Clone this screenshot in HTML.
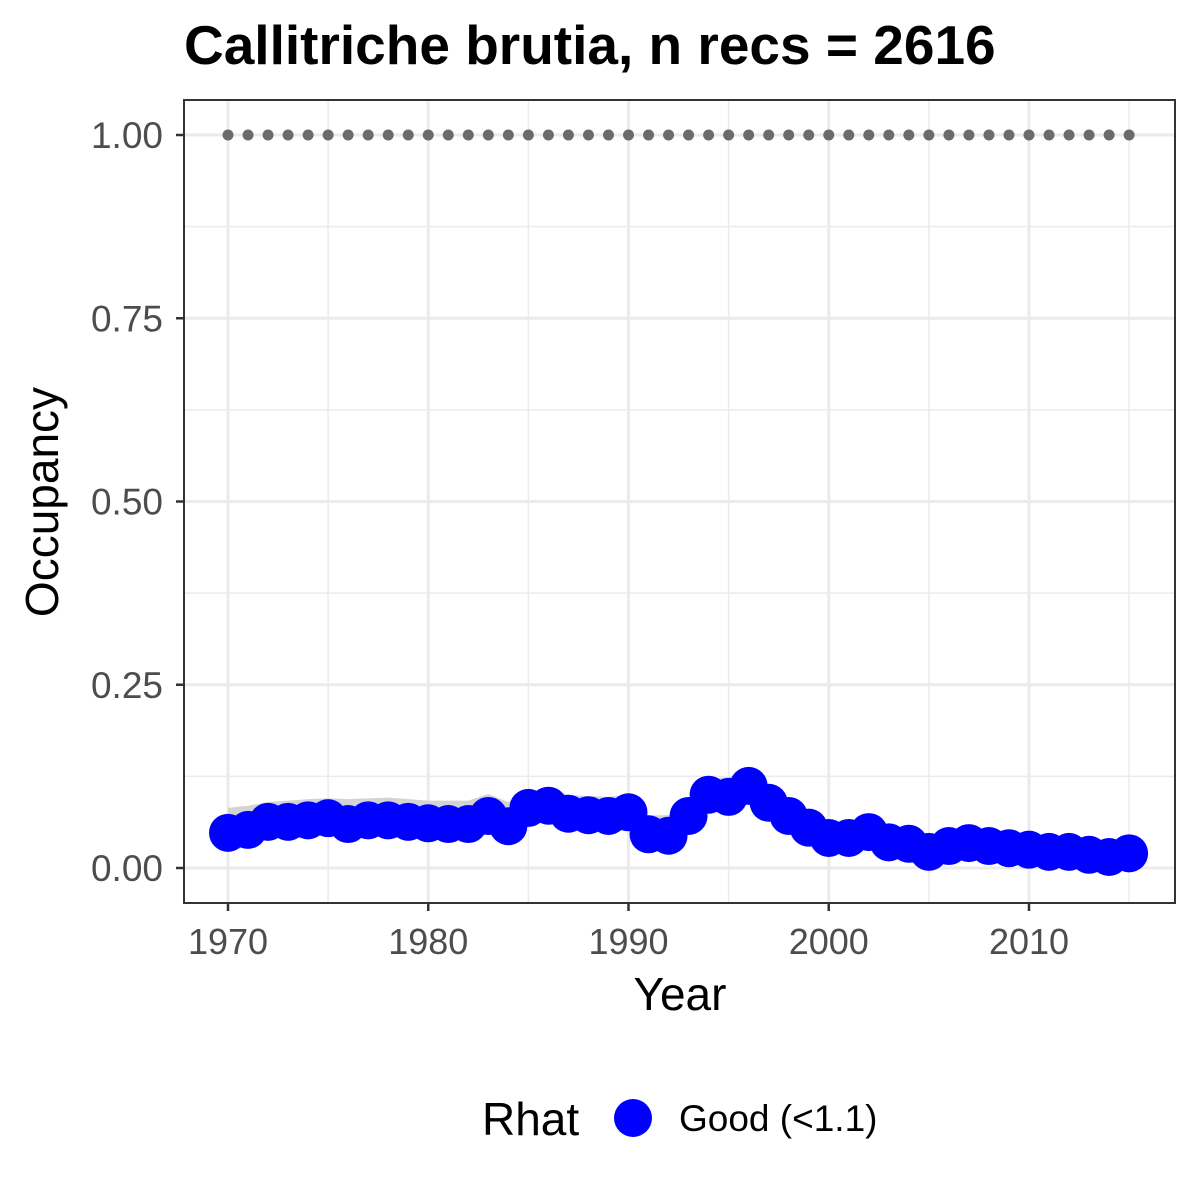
<!DOCTYPE html>
<html><head><meta charset="utf-8"><style>
body{margin:0;background:#fff;}
svg{display:block;font-family:"Liberation Sans",Arial,sans-serif;}
</style></head><body>
<svg id="chart" width="1200" height="1200" viewBox="0 0 1200 1200">
<text x="184" y="64" font-size="55" font-weight="bold" fill="#000">Callitriche brutia, n recs = 2616</text>
<rect x="184" y="100" width="991" height="803" fill="#fff"/>
<g id="grid"></g>
<g id="ribbon"></g>
<g id="dots"></g>
<g id="points"></g>
<rect x="184" y="100" width="991" height="803" fill="none" stroke="#333" stroke-width="2"/>
<g id="axes"></g>
<text x="680" y="1010" font-size="46" text-anchor="middle" fill="#000">Year</text>
<text transform="translate(58,502) rotate(-90)" font-size="46" text-anchor="middle" fill="#000">Occupancy</text>
<g>
<text x="482" y="1135" font-size="46" fill="#000">Rhat</text>
<circle cx="633" cy="1118" r="19" fill="#0000ff"/>
<text x="679" y="1131" font-size="37" fill="#000">Good (&lt;1.1)</text>
</g>
</svg>
<script>
const years=[1970,1971,1972,1973,1974,1975,1976,1977,1978,1979,1980,1981,1982,1983,1984,1985,1986,1987,1988,1989,1990,1991,1992,1993,1994,1995,1996,1997,1998,1999,2000,2001,2002,2003,2004,2005,2006,2007,2008,2009,2010,2011,2012,2013,2014,2015];
const occupancy=[0.048,0.052,0.063,0.063,0.065,0.068,0.060,0.065,0.065,0.063,0.061,0.060,0.060,0.071,0.057,0.082,0.085,0.074,0.072,0.071,0.076,0.046,0.044,0.071,0.100,0.097,0.112,0.089,0.071,0.055,0.041,0.041,0.049,0.035,0.033,0.022,0.030,0.034,0.030,0.027,0.025,0.022,0.022,0.018,0.015,0.020];
const upperCI=[0.082,0.085,0.090,0.092,0.094,0.095,0.094,0.095,0.096,0.094,0.092,0.092,0.092,0.101,0.090,0.104,0.108,0.100,0.098,0.097,0.100,0.072,0.072,0.094,0.122,0.124,0.132,0.110,0.092,0.076,0.062,0.060,0.068,0.054,0.052,0.042,0.050,0.054,0.050,0.046,0.044,0.040,0.040,0.036,0.034,0.038];
const lowerCI=[0.025,0.028,0.040,0.040,0.042,0.045,0.038,0.042,0.042,0.040,0.038,0.038,0.038,0.046,0.034,0.060,0.064,0.052,0.050,0.048,0.052,0.026,0.024,0.048,0.078,0.074,0.090,0.068,0.050,0.036,0.024,0.024,0.030,0.018,0.016,0.008,0.014,0.018,0.014,0.012,0.010,0.008,0.008,0.006,0.004,0.007];
const yTicks=[0,0.25,0.5,0.75,1];
const yTickLabels=["0.00","0.25","0.50","0.75","1.00"];
const xTicks=[1970,1980,1990,2000,2010];
const xTickLabels=["1970","1980","1990","2000","2010"];
const NS="http://www.w3.org/2000/svg";
const X=v=>228+(v-1970)*20.025;
const Y=v=>868-v*733;
function mk(tag,attrs,parent){const e=document.createElementNS(NS,tag);for(const k in attrs)e.setAttribute(k,attrs[k]);parent.appendChild(e);return e;}
const grid=document.getElementById('grid'),axes=document.getElementById('axes');
for(let i=0;i<yTicks.length;i++){
  const l=mk('line',{x1:184,x2:1175,y1:Y(yTicks[i]),y2:Y(yTicks[i]),stroke:'#ebebeb','stroke-width':3},grid);
  
  
  if(i<yTicks.length-1){const m=mk('line',{x1:184,x2:1175,y1:Y((yTicks[i]+yTicks[i+1])/2),y2:Y((yTicks[i]+yTicks[i+1])/2),stroke:'#ebebeb','stroke-width':1.5},grid);
  
  }
  const t=mk('line',{x1:176,x2:184,y1:Y(yTicks[i]),y2:Y(yTicks[i]),stroke:'#333','stroke-width':2.5},axes);
  
  
  const tx=mk('text',{x:163,y:Y(yTicks[i])+13,'font-size':37,'text-anchor':'end',fill:'#4d4d4d'},axes);
  tx.textContent=yTickLabels[i];
  
  
}
for(let i=0;i<xTicks.length;i++){
  const l=mk('line',{y1:100,y2:903,x1:X(xTicks[i]),x2:X(xTicks[i]),stroke:'#ebebeb','stroke-width':3},grid);
  
  
  const mx=X(xTicks[i]+5);
  if(mx<1175){const m=mk('line',{y1:100,y2:903,x1:mx,x2:mx,stroke:'#ebebeb','stroke-width':1.5},grid);
  
  }
  const t=mk('line',{x1:X(xTicks[i]),x2:X(xTicks[i]),y1:903,y2:911,stroke:'#333','stroke-width':2.5},axes);
  
  
  const tx=mk('text',{x:X(xTicks[i]),y:954,'font-size':36,'text-anchor':'middle',fill:'#4d4d4d'},axes);
  tx.textContent=xTickLabels[i];
  
  
}
let d='';
years.forEach((y,i)=>{d+=(i?'L':'M')+X(y)+','+Y(upperCI[i]);});
for(let i=years.length-1;i>=0;i--)d+='L'+X(years[i])+','+Y(lowerCI[i]);
const rb=mk('path',{d:d+'Z',fill:'#d3d3d3'},document.getElementById('ribbon'));


const dots=document.getElementById('dots'),pts=document.getElementById('points');
years.forEach((y,i)=>{
  const c=mk('circle',{cx:X(y),cy:Y(1),r:5.5,fill:'#6b6b6b'},dots);
  
  
});
years.forEach((y,i)=>{
  const c=mk('circle',{cx:X(y),cy:Y(occupancy[i]),r:19,fill:'#0000ff'},pts);
  
  
});
</script>
</body></html>
